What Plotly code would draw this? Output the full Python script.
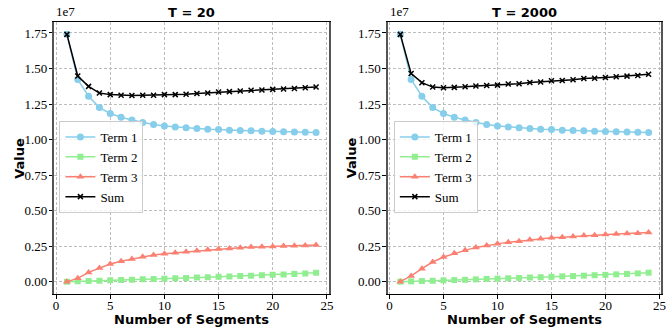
import plotly.graph_objects as go

# Values are in units of 1e7
SCALE = 1e7
segments = list(range(1, 25))

term1 = [1.740, 1.422, 1.305, 1.225, 1.183, 1.157, 1.138, 1.120, 1.106, 1.096,
         1.089, 1.082, 1.078, 1.073, 1.071, 1.066, 1.064, 1.062, 1.059, 1.057,
         1.055, 1.053, 1.052, 1.050]
term2 = [0.000, 0.002, 0.004, 0.006, 0.009, 0.011, 0.013, 0.016, 0.019, 0.021,
         0.024, 0.026, 0.029, 0.031, 0.034, 0.037, 0.039, 0.042, 0.045, 0.048,
         0.051, 0.054, 0.058, 0.063]
term3_t20 = [0.000, 0.023, 0.065, 0.096, 0.124, 0.143, 0.159, 0.175, 0.187, 0.196,
             0.203, 0.210, 0.217, 0.224, 0.229, 0.234, 0.238, 0.243, 0.245, 0.248,
             0.250, 0.252, 0.255, 0.257]
sum_t20 = [1.740, 1.447, 1.374, 1.327, 1.316, 1.311, 1.310, 1.311, 1.312, 1.316,
           1.316, 1.318, 1.324, 1.328, 1.334, 1.337, 1.341, 1.347, 1.349, 1.353,
           1.356, 1.359, 1.365, 1.370]
term3_t2000 = [0.000, 0.040, 0.091, 0.138, 0.173, 0.199, 0.220, 0.241, 0.255, 0.266,
               0.278, 0.285, 0.294, 0.301, 0.308, 0.313, 0.318, 0.325, 0.327, 0.332,
               0.336, 0.339, 0.341, 0.346]
sum_t2000 = [1.740, 1.464, 1.400, 1.369, 1.365, 1.367, 1.371, 1.377, 1.380, 1.383,
             1.391, 1.393, 1.401, 1.405, 1.413, 1.416, 1.421, 1.429, 1.431, 1.437,
             1.442, 1.446, 1.451, 1.459]

titles = ["T = 20", "T = 2000"]
y_ticks = [0.0, 0.25, 0.50, 0.75, 1.00, 1.25, 1.50, 1.75]
x_ticks = [0, 5, 10, 15, 20, 25]

SERIF = "Liberation Serif, Times New Roman, DejaVu Serif, serif"
SANS_BOLD = "DejaVu Sans, sans-serif"

W, H = 668, 330
panels = [
    dict(x0=53, x1=330, legend_x=58, ylabel_x=17),
    dict(x0=390, x1=666, legend_x=396, ylabel_x=353),
]
top_px, bot_px = 22, 294

fig = go.Figure()

series_styles = [
    ("Term 1", dict(color="#87CEEB", symbol="circle", size=7)),
    ("Term 2", dict(color="#90EE90", symbol="square", size=6)),
    ("Term 3", dict(color="#FA8072", symbol="triangle-up", size=7)),
    ("Sum", dict(color="black", symbol="x-thin", size=5)),
]

data_sets = [
    [term1, term2, term3_t20, sum_t20],
    [term1, term2, term3_t2000, sum_t2000],
]

for i, (panel, series) in enumerate(zip(panels, data_sets)):
    xa = "x" if i == 0 else "x2"
    ya = "y" if i == 0 else "y2"
    leg = "legend" if i == 0 else "legend2"
    for (name, st), vals in zip(series_styles, series):
        marker = dict(color=st["color"], symbol=st["symbol"], size=st["size"])
        if st["symbol"] == "x-thin":
            marker["line"] = dict(color="black", width=1.5)
        fig.add_trace(go.Scatter(
            x=segments, y=[v * SCALE for v in vals], name=name,
            mode="lines+markers", xaxis=xa, yaxis=ya, legend=leg,
            line=dict(color=st["color"], width=1.5), marker=marker,
        ))

y_dom = [1 - bot_px / H, 1 - top_px / H]
axis_common = dict(
    showgrid=True, gridcolor="#bdbdbd", griddash="3px,2px", gridwidth=0.8,
    zeroline=False, showline=True, mirror=True,
    ticks="outside", ticklen=3.5, tickcolor="black",
    tickfont=dict(family=SERIF, size=13, color="black"),
)

for i, panel in enumerate(panels):
    sfx = "" if i == 0 else "2"
    fig.update_layout(**{
        "xaxis" + sfx: dict(
            axis_common, domain=[panel["x0"] / W, panel["x1"] / W],
            range=[-0.15, 25.15], tickvals=x_ticks,
            ticktext=[str(t) for t in x_ticks], anchor="y" + sfx,
            linecolor="black", linewidth=1, ticklabelstandoff=-4,
        ),
        "yaxis" + sfx: dict(
            axis_common, domain=y_dom,
            range=[-0.087 * SCALE, 1.827 * SCALE],
            tickvals=[t * SCALE for t in y_ticks],
            ticktext=[f"{t:.2f}" for t in y_ticks], anchor="x" + sfx,
            linecolor="#555555", linewidth=2, ticklabelstandoff=-1,
        ),
    })
    cx = (panel["x0"] + panel["x1"]) / 2 / W
    fig.add_annotation(text="<b>" + titles[i] + "</b>", x=cx, y=1 - 12 / H,
                       xref="paper", yref="paper", showarrow=False,
                       xanchor="center", yanchor="middle",
                       font=dict(family=SANS_BOLD, size=13, color="black"))
    fig.add_annotation(text="1e7", x=panel["x0"] / W, y=1 - 21 / H,
                       xref="paper", yref="paper", showarrow=False,
                       xanchor="left", yanchor="bottom",
                       font=dict(family=SERIF, size=13, color="black"))
    fig.add_annotation(text="<b>Number of Segments</b>", x=cx, y=1 - 319 / H,
                       xref="paper", yref="paper", showarrow=False,
                       xanchor="center", yanchor="middle",
                       font=dict(family=SANS_BOLD, size=13, color="black"))
    fig.add_annotation(text="<b>Value</b>", x=panel["ylabel_x"] / W,
                       y=(y_dom[0] + y_dom[1]) / 2,
                       xref="paper", yref="paper", showarrow=False,
                       xanchor="center", yanchor="middle", textangle=-90,
                       font=dict(family=SANS_BOLD, size=13, color="black"))

legend_common = dict(
    yanchor="top", xanchor="left", y=1 - 121 / H,
    bgcolor="rgba(255,255,255,0.8)", bordercolor="#cccccc", borderwidth=1,
    font=dict(family=SERIF, size=13, color="black"),
    tracegroupgap=0, itemwidth=30,
)
fig.update_layout(
    width=W, height=H, margin=dict(l=0, r=0, t=0, b=0),
    paper_bgcolor="white", plot_bgcolor="white",
    legend=dict(legend_common, x=panels[0]["legend_x"] / W),
    legend2=dict(legend_common, x=panels[1]["legend_x"] / W),
)

fig.write_html("out.html")
